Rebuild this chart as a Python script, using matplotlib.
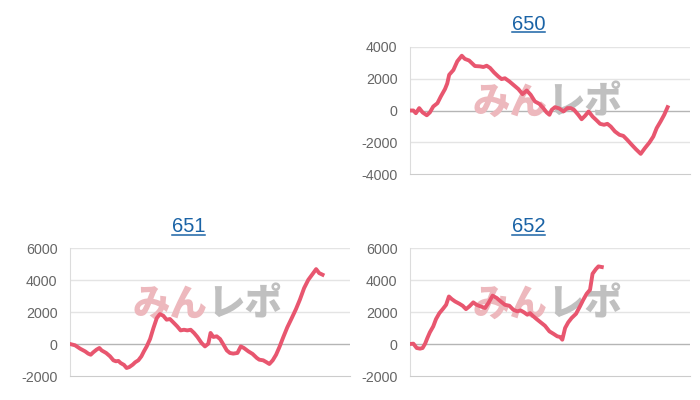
import numpy as np
import matplotlib.pyplot as plt
from matplotlib.lines import Line2D

# 台ごとの差枚推移（横軸は0-100のスロット位置、縦軸は差枚）
titles = ['650', '651', '652']

x_650 = [0, 1.2, 2.1, 3.3, 4.5, 6.0, 7.1, 8.3, 9.8, 11.0, 12.5, 13.3, 14.0, 15.5, 16.9,
         18.5, 19.6, 21.1, 22.0, 23.2, 25.0, 26.2, 27.4, 28.6, 30.0, 31.5, 32.7, 33.9,
         35.5, 36.9, 38.7, 40.2, 41.7, 43.1, 44.6, 46.2, 47.6, 48.8, 49.8, 50.6, 51.8,
         53.3, 54.8, 56.2, 57.4, 58.6, 60.1, 61.3, 62.5, 63.8, 65.2, 66.7, 67.9, 69.3,
         70.5, 71.7, 73.2, 74.8, 76.2, 77.6, 79.2, 80.7, 82.4, 83.9, 85.5, 86.9, 88.1,
         89.5, 90.8, 92.0]
y_650 = [0, 0, -170, 150, -120, -300, -120, 250, 460, 880, 1350, 1700, 2250, 2550, 3100,
         3450, 3250, 3150, 3000, 2800, 2780, 2740, 2820, 2680, 2400, 2150, 1980, 2030,
         1830, 1620, 1350, 1030, 1260, 990, 570, 420, 150, -120, -270, 40, 210,
         130, -60, 150, 150, 40, -270, -550, -340, -60, -380, -630, -840, -900,
         -840, -1010, -1320, -1530, -1600, -1850, -2160, -2440, -2730, -2370, -2020, -1640, -1110,
         -690, -270, 210]

x_651 = [0, 1.8, 3.6, 5.4, 6.5, 7.4, 8.3, 9.5, 10.5, 11.3, 12.9, 14.3, 15.5, 16.4, 17.3,
         18.1, 19.3, 20.2, 21.2, 22.4, 23.3, 24.4, 25.5, 26.4, 27.4, 28.6, 29.8, 31.0,
         32.1, 33.3, 34.5, 35.7, 36.9, 38.3, 39.5, 40.7, 41.9, 43.1, 44.3, 45.5, 47.0,
         48.2, 49.4, 50.2, 51.2, 52.4, 53.6, 54.8, 56.0, 57.1, 58.3, 59.8, 61.0, 62.1,
         63.7, 65.2, 66.7, 67.6, 69.0, 70.2, 71.2, 72.4, 73.6, 74.8, 76.2, 77.6, 79.2,
         80.7, 82.1, 83.6, 85.1, 86.7, 87.9, 89.0, 90.2]
y_651 = [0, -80, -290, -460, -600, -670, -520, -350, -250, -400, -560, -770, -1020, -1080, -1060,
         -1190, -1310, -1500, -1440, -1290, -1140, -1020, -770, -460, -150, 310, 1000, 1620,
         1870, 1770, 1520, 1560, 1350, 1100, 850, 890, 850, 890, 690, 440, 60,
         -150, 20, 690, 440, 480, 310, -40, -400, -560, -600, -560, -150, -250,
         -460, -620, -870, -980, -1020, -1140, -1250, -1020, -670, -190, 440, 1040, 1620,
         2180, 2770, 3490, 4010, 4390, 4680, 4430, 4330]

x_652 = [0, 1.2, 2.4, 3.6, 4.5, 5.4, 6.2, 7.1, 8.3, 9.3, 10.5, 11.7, 12.9, 13.9, 14.9,
         16.1, 17.6, 18.8, 20.0, 21.2, 22.6, 23.8, 25.2, 26.8, 28.0, 29.5, 31.0, 32.4,
         33.9, 35.5, 36.9, 38.3, 39.5, 40.7, 41.9, 42.9, 43.8, 45.2, 46.7, 48.2, 49.8,
         51.2, 52.6, 53.6, 54.4, 55.4, 56.5, 57.7, 59.3, 60.7, 61.9, 63.1, 64.3, 65.2,
         66.4, 67.3, 68.5]
y_652 = [0, 20, -250, -290, -250, 20, 370, 730, 1100, 1560, 1930, 2180, 2450, 2970, 2810,
         2660, 2520, 2390, 2180, 2350, 2600, 2450, 2350, 2250, 2560, 3020, 2870, 2660,
         2450, 2390, 2140, 2040, 2100, 1980, 1830, 1930, 1770, 1560, 1350, 1140, 790,
         640, 480, 440, 270, 1000, 1350, 1620, 1890, 2350, 2770, 3140, 3390, 4390,
         4680, 4850, 4810]

ticks_650 = [-4000, -2000, 0, 2000, 4000]
ticks_651 = [-2000, 0, 2000, 4000, 6000]
ticks_652 = [-2000, 0, 2000, 4000, 6000]

line_color = '#e8566f'
title_color = '#1a63a6'

fig = plt.figure(figsize=(7, 4), dpi=100)


def panel(rect, x, y, ticks, title, title_pos):
    ax = fig.add_axes(rect)
    ax.set_xlim(0, 100)
    ax.set_ylim(ticks[0], ticks[-1])
    ax.set_yticks(ticks)
    ax.set_yticklabels([str(t) for t in ticks], fontsize=10.3,
                       family='Liberation Sans', color='#666666')
    ax.set_xticks([])
    ax.tick_params(axis='y', length=0, pad=9)
    for s in ['top', 'right']:
        ax.spines[s].set_visible(False)
    ax.spines['left'].set_color('#dcdcdc')
    ax.spines['bottom'].set_color('#cccccc')
    for t in ticks[1:]:
        c = '#b5b5b5' if t == 0 else '#e4e4e4'
        ax.axhline(t, color=c, lw=1, zorder=1)

    # ロゴの透かし
    ax.text(0.49, 0.56, 'みん', transform=ax.transAxes, ha='right', va='center',
            fontsize=27, fontweight='heavy', color='#edb8bd',
            family=['Noto Sans CJK JP', 'DejaVu Sans'], zorder=2)
    ax.text(0.49, 0.56, 'レポ', transform=ax.transAxes, ha='left', va='center',
            fontsize=27, fontweight='heavy', color='#c0c0c0',
            family=['Noto Sans CJK JP', 'DejaVu Sans'], zorder=2)

    ax.plot(x, y, color=line_color, lw=2.8, solid_joinstyle='round', zorder=3)

    t = fig.text(title_pos[0], title_pos[1], title, ha='center', va='center',
                 fontsize=14.5, family='Liberation Sans', color=title_color)
    return ax, t


_, t1 = panel([0.5857, 0.565, 0.4, 0.3175], x_650, y_650, ticks_650, titles[0], (0.755, 0.94))
_, t2 = panel([0.1, 0.06, 0.4, 0.32], x_651, y_651, ticks_651, titles[1], (0.269, 0.4325))
_, t3 = panel([0.5857, 0.06, 0.4, 0.32], x_652, y_652, ticks_652, titles[2], (0.755, 0.4325))

# タイトルの下線
fig.canvas.draw()
r = fig.canvas.get_renderer()
W, H = fig.bbox.width, fig.bbox.height
for t in [t1, t2, t3]:
    bb = t.get_window_extent(r)
    yy = (bb.y0 + 2) / H
    fig.add_artist(Line2D([bb.x0 / W, bb.x1 / W], [yy, yy], color=title_color, lw=1.1))

fig.savefig('out.png', dpi=100)
